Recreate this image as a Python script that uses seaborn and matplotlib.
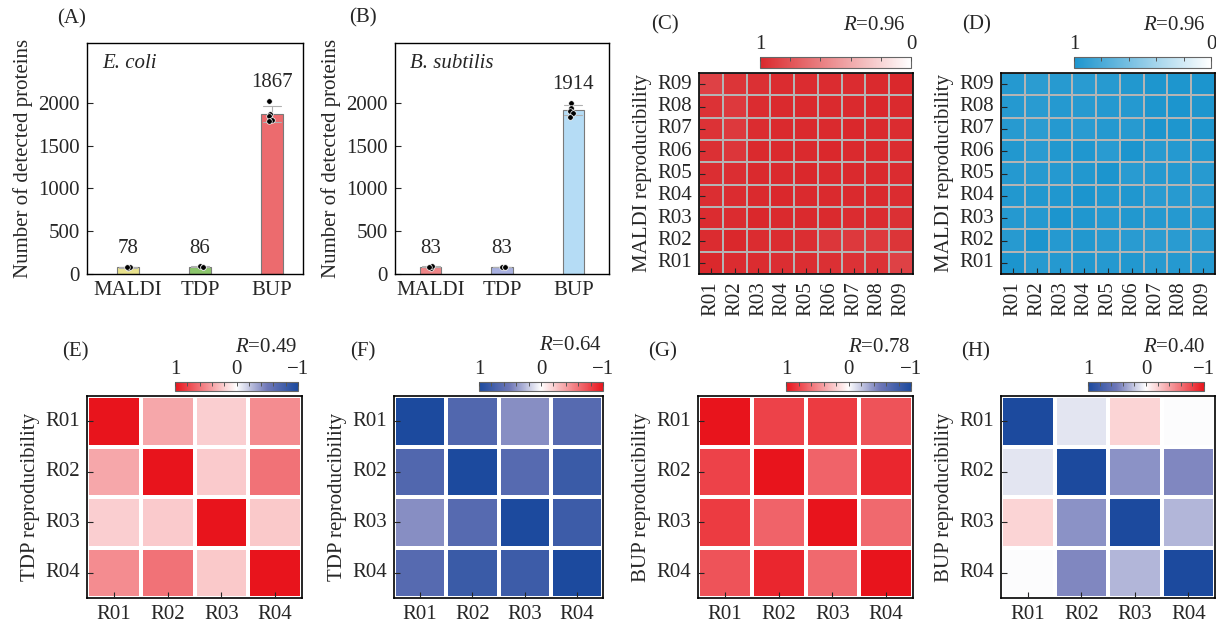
import numpy as np
import pandas as pd
import matplotlib
matplotlib.use("Agg")
import matplotlib.pyplot as plt
import seaborn as sns
from matplotlib.colors import LinearSegmentedColormap

# ---- data -------------------------------------------------------------
groups = ["MALDI", "TDP", "BUP"]

ecoli_reps = [[70, 80, 84], [92, 84, 82], [2025, 1870, 1850, 1800, 1790]]
bsub_reps = [[75, 88, 86], [78, 86, 85], [2000, 1940, 1910, 1880, 1840]]

ecoli_colors = ["#e9e28c", "#8cc66c", "#ec6b6e"]
bsub_colors = ["#ef8587", "#a8b0e0", "#b5dcf5"]

reps9 = ["R01", "R02", "R03", "R04", "R05", "R06", "R07", "R08", "R09"]
reps4 = ["R01", "R02", "R03", "R04"]

maldi_ecoli = [
    [1.00, 0.98, 0.98, 0.97, 0.97, 0.96, 0.95, 0.95, 0.88],
    [0.98, 1.00, 0.98, 0.98, 0.97, 0.93, 0.92, 0.92, 0.94],
    [0.98, 0.98, 1.00, 0.99, 0.99, 0.99, 0.98, 0.98, 0.96],
    [0.97, 0.98, 0.99, 1.00, 0.99, 0.99, 0.99, 0.99, 0.98],
    [0.97, 0.97, 0.99, 0.99, 1.00, 0.99, 0.99, 0.99, 0.98],
    [0.96, 0.93, 0.99, 0.99, 0.99, 1.00, 0.99, 0.99, 0.98],
    [0.95, 0.92, 0.98, 0.99, 0.99, 0.99, 1.00, 0.99, 0.98],
    [0.95, 0.92, 0.98, 0.99, 0.99, 0.99, 0.99, 1.00, 0.99],
    [0.88, 0.94, 0.96, 0.98, 0.98, 0.98, 0.98, 0.99, 1.00],
]
maldi_bsub = [
    [1.00, 0.95, 0.96, 0.97, 0.96, 0.97, 0.95, 0.96, 0.96],
    [0.95, 1.00, 0.96, 0.97, 0.95, 0.94, 0.93, 0.94, 0.93],
    [0.96, 0.96, 1.00, 0.98, 0.96, 0.97, 0.96, 0.96, 0.95],
    [0.97, 0.97, 0.98, 1.00, 0.97, 0.98, 0.94, 0.95, 0.94],
    [0.96, 0.95, 0.96, 0.97, 1.00, 0.94, 0.96, 0.96, 0.95],
    [0.97, 0.94, 0.97, 0.98, 0.94, 1.00, 0.95, 0.96, 0.97],
    [0.95, 0.93, 0.96, 0.94, 0.96, 0.95, 1.00, 0.99, 0.99],
    [0.96, 0.94, 0.96, 0.95, 0.96, 0.96, 0.99, 1.00, 0.99],
    [0.96, 0.93, 0.95, 0.94, 0.95, 0.97, 0.99, 0.99, 1.00],
]
tdp_ecoli = [
    [1.00, 0.37, 0.21, 0.49],
    [0.37, 1.00, 0.22, 0.60],
    [0.21, 0.22, 1.00, 0.23],
    [0.49, 0.60, 0.23, 1.00],
]
tdp_bsub = [
    [1.00, 0.68, 0.42, 0.65],
    [0.68, 1.00, 0.65, 0.82],
    [0.42, 0.65, 1.00, 0.80],
    [0.65, 0.82, 0.80, 1.00],
]
bup_ecoli = [
    [1.00, 0.80, 0.83, 0.73],
    [0.80, 1.00, 0.66, 0.92],
    [0.83, 0.66, 1.00, 0.64],
    [0.73, 0.92, 0.64, 1.00],
]
bup_bsub = [
    [1.00, 0.10, -0.18, 0.01],
    [0.10, 1.00, 0.40, 0.44],
    [-0.18, 0.40, 1.00, 0.27],
    [0.01, 0.44, 0.27, 1.00],
]
r_values = ["0.96", "0.96", "0.49", "0.64", "0.78", "0.40"]

# ---- style ------------------------------------------------------------
sns.set_style("ticks")
plt.rcParams["font.family"] = ["Liberation Serif", "DejaVu Serif"]
plt.rcParams["mathtext.fontset"] = "custom"
plt.rcParams["mathtext.it"] = "Liberation Serif:italic"
plt.rcParams["mathtext.rm"] = "Liberation Serif"
FS = 15

W, H = 1216, 627
fig = plt.figure(figsize=(W / 100, H / 100), dpi=100)


def box(l, t, r, b):
    return [l / W, 1 - b / H, (r - l) / W, (b - t) / H]


def bar_panel(ax, reps, colors, species, xlim):
    df = pd.DataFrame({
        "group": np.repeat(groups, [len(r) for r in reps]),
        "count": np.concatenate(reps),
    })
    sns.barplot(data=df, x="group", y="count", hue="group", order=groups,
                palette=dict(zip(groups, colors)), saturation=1, width=0.3,
                errorbar="sd", capsize=0.25,
                err_kws={"color": "#b0b0b0", "linewidth": 0.8},
                edgecolor="#7a7a7a", linewidth=0.8, legend=False, ax=ax)
    np.random.seed(3)
    sns.stripplot(data=df, x="group", y="count", order=groups, color="black",
                  size=4, jitter=0.05, edgecolor="white", linewidth=0.5, ax=ax)
    for i, r in enumerate(reps):
        ax.text(i, max(r) + 210, f"{round(np.mean(r))}", ha="center",
                va="center", fontsize=FS)
    ax.text(0.07, 0.913, species, transform=ax.transAxes, style="italic",
            ha="left", va="center", fontsize=FS)
    ax.set_ylim(0, 2700)
    ax.set_xlim(*xlim)
    ax.set_yticks([0, 500, 1000, 1500, 2000])
    ax.set_xlabel("")
    ax.set_ylabel("Number of detected proteins", fontsize=FS)
    ax.tick_params(direction="in", length=4, width=0.8, labelsize=FS, pad=5)
    for s in ax.spines.values():
        s.set_visible(True)
        s.set_linewidth(1.0)
        s.set_color("black")


def heat_panel(ax, cax, mat, labels, flip, cmap, vmin, vmax, lcolor, lw, rot,
               ylabel, cticks, ctlabels):
    df = pd.DataFrame(mat, index=labels, columns=labels)
    if flip:
        df = df.iloc[::-1]
    sns.heatmap(df, ax=ax, cmap=cmap, vmin=vmin, vmax=vmax, linewidths=lw,
                linecolor=lcolor, cbar_ax=cax,
                cbar_kws={"orientation": "horizontal"})
    ax.set_xticklabels(list(df.columns), rotation=rot, fontsize=FS)
    ax.set_yticklabels(list(df.index), rotation=0, fontsize=FS)
    ax.set_ylabel(ylabel, fontsize=FS)
    ax.set_axisbelow(False)
    ax.tick_params(direction="in", length=4, width=0.8, pad=5)
    for s in ax.spines.values():
        s.set_visible(True)
        s.set_linewidth(1.2)
        s.set_color("black")
    cbar = ax.collections[0].colorbar
    cbar.set_ticks(cticks, labels=ctlabels)
    cbar.ax.invert_xaxis()
    cbar.ax.set_axisbelow(False)
    cbar.ax.xaxis.set_ticks_position("top")
    cbar.ax.tick_params(axis="x", direction="in", length=3, width=0.7,
                        color="#555555", pad=2, labelsize=FS)
    cbar.outline.set_edgecolor("#666666")
    cbar.outline.set_linewidth(0.8)


red_cmap = LinearSegmentedColormap.from_list("reds", ["#ffffff", "#da282c"])
blue_cmap = LinearSegmentedColormap.from_list("blues", ["#ffffff", "#1c95ce"])
rwb = LinearSegmentedColormap.from_list(
    "rwb", [(0, "#1c4a9e"), (0.25, "#7078b8"), (0.5, "#ffffff"), (1, "#e8141c")])
bwr = LinearSegmentedColormap.from_list(
    "bwr", [(0, "#e8141c"), (0.5, "#ffffff"), (0.75, "#7078b8"), (1, "#1c4a9e")])

ticks01 = [1, 0.8, 0.6, 0.4, 0.2, 0]
labels01 = ["1", "", "", "", "", "0"]
ticks11 = [1, 0.8, 0.6, 0.4, 0.2, 0, -0.2, -0.4, -0.6, -0.8, -1]
labels11 = ["1", "", "", "", "", "0", "", "", "", "", "\u22121"]

# ---- bar panels -------------------------------------------------------
axA = fig.add_axes(box(87, 43, 303, 274))
bar_panel(axA, ecoli_reps, ecoli_colors, "E. coli", (-0.57, 2.43))
axB = fig.add_axes(box(395, 43, 609, 274))
bar_panel(axB, bsub_reps, bsub_colors, "B. subtilis", (-0.5, 2.5))

# ---- heatmaps ---------------------------------------------------------
panels = [
    ((699, 73, 913, 274), (760, 57, 911, 68), maldi_ecoli, reps9, True, red_cmap,
     0, 1, "#b4b4b4", 1.2, 90, "MALDI reproducibility", ticks01, labels01),
    ((1001, 73, 1215, 274), (1074, 57, 1211, 68), maldi_bsub, reps9, True, blue_cmap,
     0, 1, "#b4b4b4", 1.2, 90, "MALDI reproducibility", ticks01, labels01),
    ((87, 396, 302, 598), (175, 382, 298, 391), tdp_ecoli, reps4, False, rwb,
     -1, 1, "white", 1.5, 0, "TDP reproducibility", ticks11, labels11),
    ((394, 396, 603, 598), (479, 382, 603, 391), tdp_bsub, reps4, False, bwr,
     -1, 1, "white", 1.5, 0, "TDP reproducibility", ticks11, labels11),
    ((698, 396, 913, 598), (786, 382, 911, 391), bup_ecoli, reps4, False, rwb,
     -1, 1, "white", 1.5, 0, "BUP reproducibility", ticks11, labels11),
    ((1001, 396, 1215, 598), (1088, 382, 1204, 391), bup_bsub, reps4, False, bwr,
     -1, 1, "white", 1.5, 0, "BUP reproducibility", ticks11, labels11),
]
r_pos = [(905, 25), (1205, 25), (297, 347), (602, 345), (910, 347), (1205, 347)]

for p, rv, rp in zip(panels, r_values, r_pos):
    ax = fig.add_axes(box(*p[0]))
    cax = fig.add_axes(box(*p[1]))
    heat_panel(ax, cax, *p[2:])
    fig.text(rp[0] / W, 1 - rp[1] / H, r"$\it{R}$=" + rv, ha="right",
             va="center", fontsize=FS)

# ---- panel letters ----------------------------------------------------
letters = ["(A)", "(B)", "(C)", "(D)", "(E)", "(F)", "(G)", "(H)"]
letter_pos = [(72, 19), (363, 18), (665, 25), (977, 25),
              (75, 352), (363, 352), (663, 352), (976, 352)]
for t, (x, y) in zip(letters, letter_pos):
    fig.text(x / W, 1 - y / H, t, ha="center", va="center", fontsize=FS)

fig.savefig("out.png", dpi=100)
